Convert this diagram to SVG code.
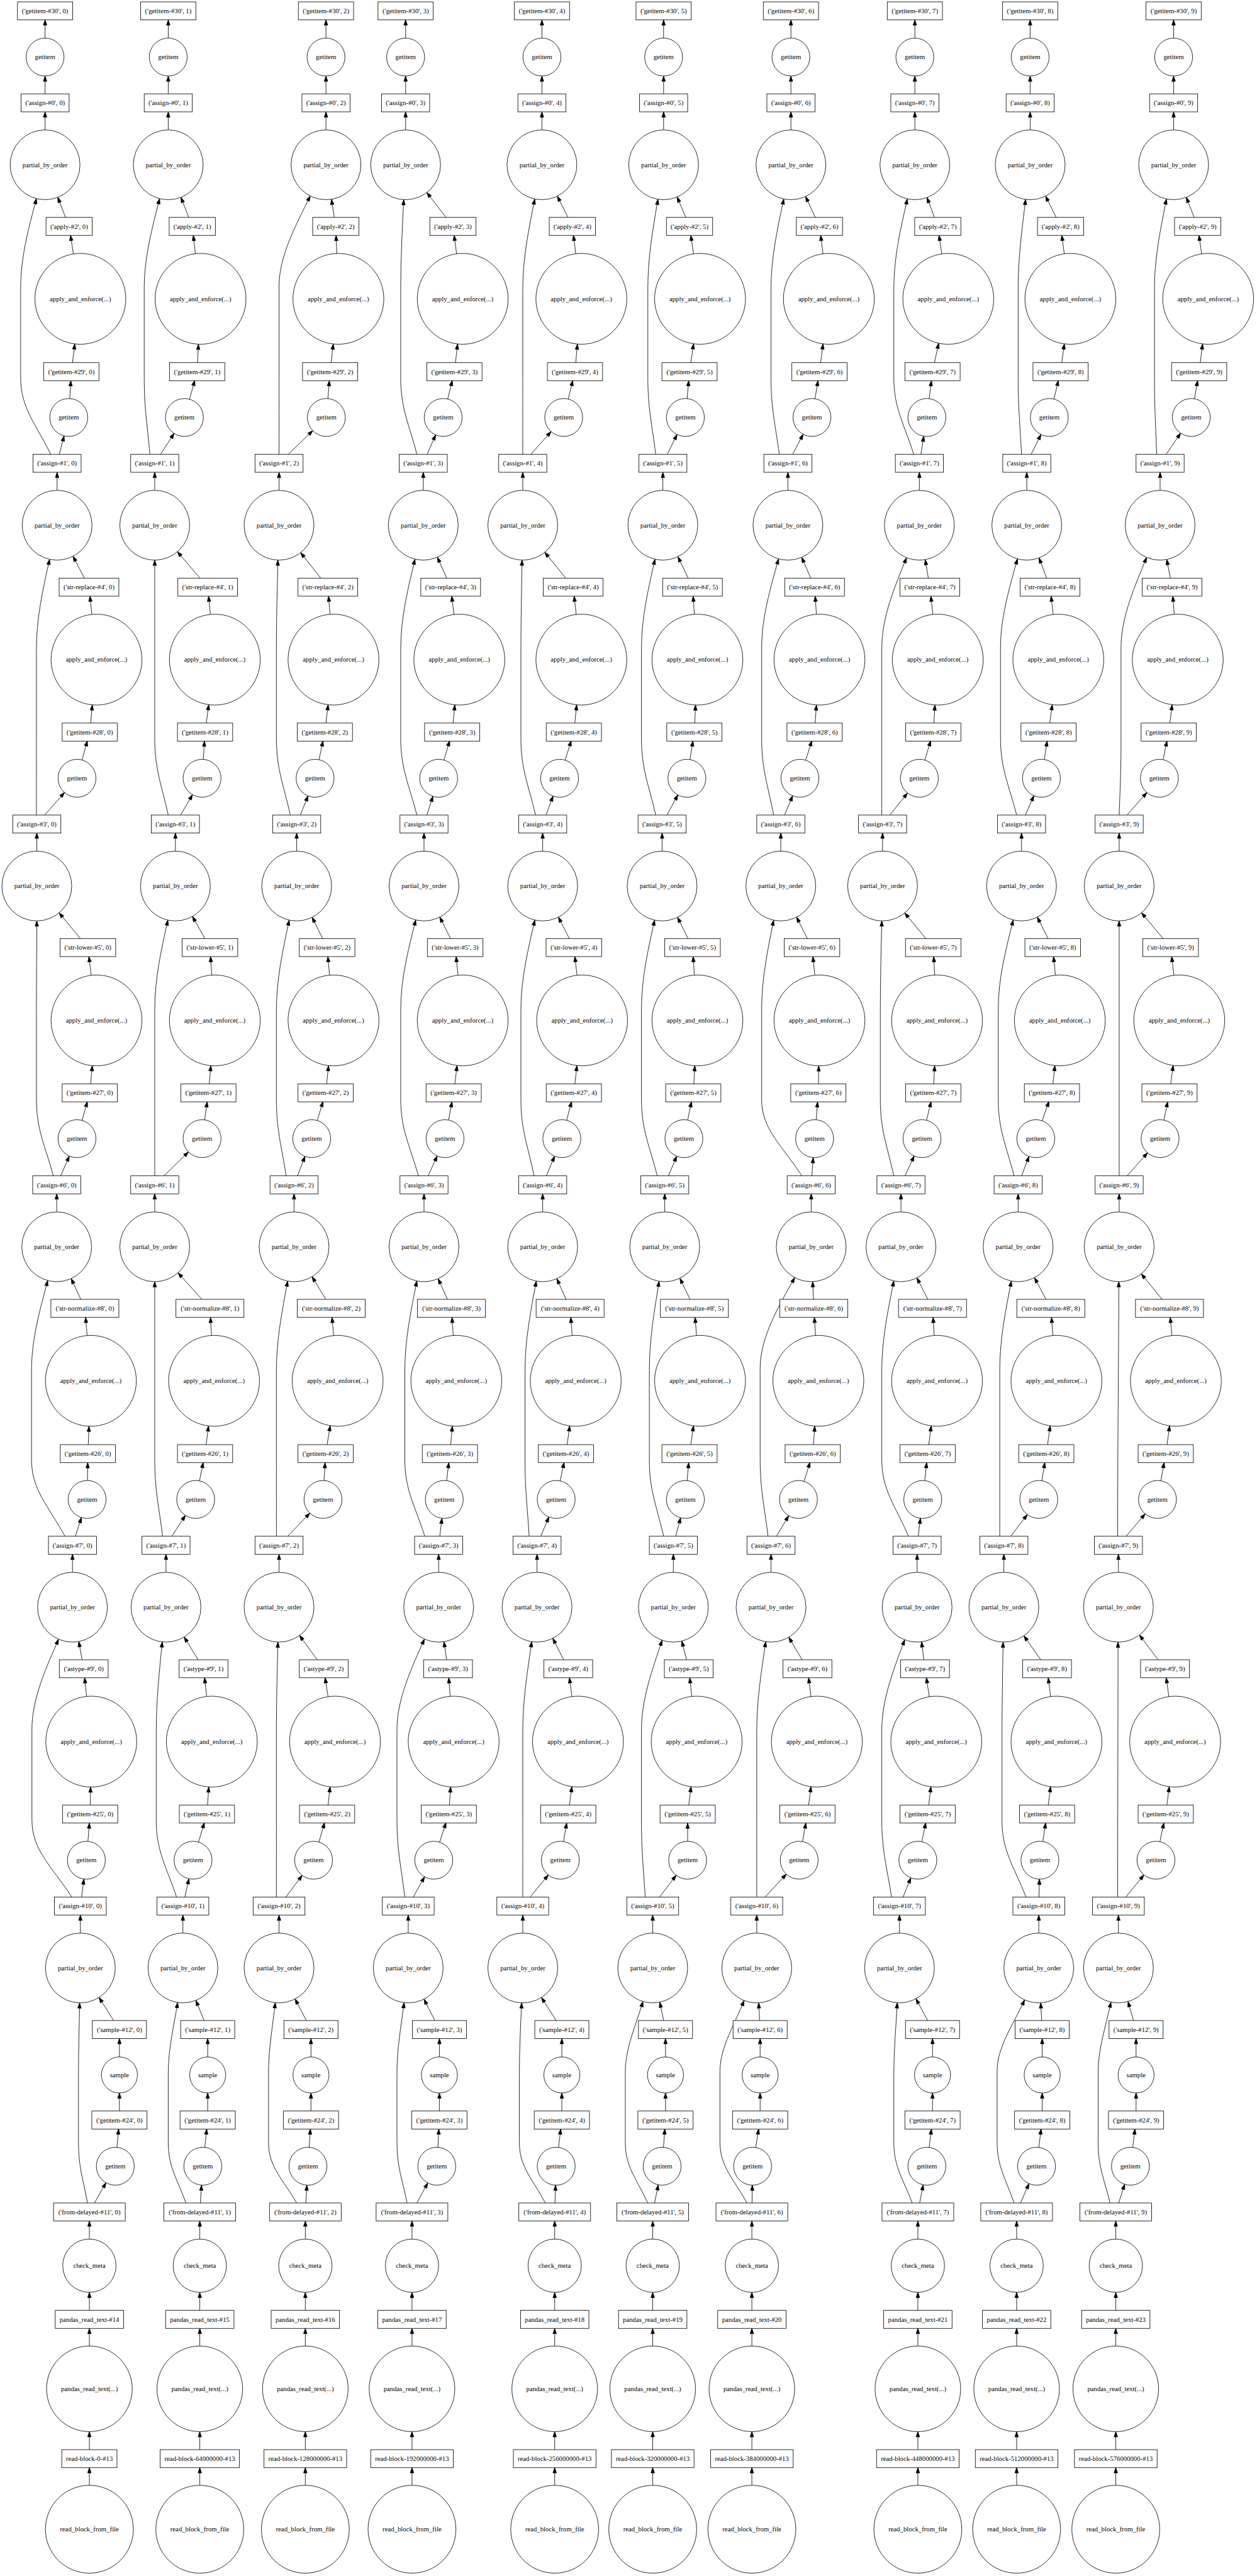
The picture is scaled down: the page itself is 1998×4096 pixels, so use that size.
<svg xmlns="http://www.w3.org/2000/svg" width="1998" height="4096" viewBox="0 0 1998 4096">
<style>
.nd rect,.nd circle{fill:#fff;stroke:#000;stroke-width:1.4}
.nd text{font-family:"Liberation Serif","Times New Roman",serif;font-size:18px;text-anchor:middle;fill:#000}
.ed path{fill:none;stroke:#000;stroke-width:1.4}
.eb path{marker-end:url(#mB)}
.eg path{marker-end:url(#mG)}
.ep path{marker-end:url(#mP)}
.ea path{marker-end:url(#mA)}
.es path{marker-end:url(#mS)}
.ec path{marker-end:url(#mC)}
.er path{marker-end:url(#mR)}
</style>
<defs>
<marker id="mB" viewBox="-20 -8 160 16" markerWidth="160" markerHeight="16" refX="24" refY="0" orient="auto" markerUnits="userSpaceOnUse" overflow="visible"><path d="M0,0L-14,-4.7L-14,4.7Z" fill="#000" stroke="#000" stroke-width="1.4"/></marker>
<marker id="mG" viewBox="-20 -8 160 16" markerWidth="160" markerHeight="16" refX="50.5" refY="0" orient="auto" markerUnits="userSpaceOnUse" overflow="visible"><path d="M0,0L-14,-4.7L-14,4.7Z" fill="#000" stroke="#000" stroke-width="1.4"/></marker>
<marker id="mP" viewBox="-20 -8 160 16" markerWidth="160" markerHeight="16" refX="93" refY="0" orient="auto" markerUnits="userSpaceOnUse" overflow="visible"><path d="M0,0L-14,-4.7L-14,4.7Z" fill="#000" stroke="#000" stroke-width="1.4"/></marker>
<marker id="mA" viewBox="-20 -8 160 16" markerWidth="160" markerHeight="16" refX="121" refY="0" orient="auto" markerUnits="userSpaceOnUse" overflow="visible"><path d="M0,0L-14,-4.7L-14,4.7Z" fill="#000" stroke="#000" stroke-width="1.4"/></marker>
<marker id="mS" viewBox="-20 -8 160 16" markerWidth="160" markerHeight="16" refX="48" refY="0" orient="auto" markerUnits="userSpaceOnUse" overflow="visible"><path d="M0,0L-14,-4.7L-14,4.7Z" fill="#000" stroke="#000" stroke-width="1.4"/></marker>
<marker id="mC" viewBox="-20 -8 160 16" markerWidth="160" markerHeight="16" refX="71" refY="0" orient="auto" markerUnits="userSpaceOnUse" overflow="visible"><path d="M0,0L-14,-4.7L-14,4.7Z" fill="#000" stroke="#000" stroke-width="1.4"/></marker>
<marker id="mR" viewBox="-20 -8 160 16" markerWidth="160" markerHeight="16" refX="114" refY="0" orient="auto" markerUnits="userSpaceOnUse" overflow="visible"><path d="M0,0L-14,-4.7L-14,4.7Z" fill="#000" stroke="#000" stroke-width="1.4"/></marker>
</defs>
<rect x="0" y="0" width="1998" height="4096" fill="#fff"/>
<g transform="scale(0.59695)">
<g id="edges" class="ed">
<g class="eb">
<path d="M238,6737V6549"/><path d="M238,6363V6178"/><path d="M238,6035V5892"/><path d="M307,5770L318,5647"/><path d="M318,5527V5406"/><path d="M214,5242V5077"/><path d="M230,4955L240,4832"/><path d="M243,4639L223,4445"/><path d="M193,4281V4116"/><path d="M232,3994L234,3872"/><path d="M242,3678L226,3485"/><path d="M151,3321V3156"/><path d="M205,3033L239,2911"/><path d="M257,2718L234,2524"/><path d="M98,2360V2195"/><path d="M205,2073L239,1950"/><path d="M257,1757L237,1564"/><path d="M152,1399V1234"/><path d="M183,1112L190,990"/><path d="M214,796L184,603"/><path d="M120,439V274"/><path d="M120,152V29"/>
<path d="M532,6737V6549"/><path d="M532,6363V6178"/><path d="M532,6035V5892"/><path d="M540,5770L553,5647"/><path d="M553,5527V5406"/><path d="M487,5242V5077"/><path d="M514,4955L551,4832"/><path d="M564,4639L542,4445"/><path d="M442,4281V4116"/><path d="M521,3994L546,3872"/><path d="M570,3678L559,3485"/><path d="M412,3321V3156"/><path d="M538,3033L555,2911"/><path d="M572,2718L559,2524"/><path d="M467,2360V2195"/><path d="M538,2073L546,1950"/><path d="M572,1757L553,1564"/><path d="M412,1399V1234"/><path d="M491,1112L525,990"/><path d="M534,796L512,603"/><path d="M448,439V274"/><path d="M448,152V29"/>
<path d="M813,6737V6549"/><path d="M813,6363V6178"/><path d="M813,6035V5892"/><path d="M820,5770L828,5647"/><path d="M828,5527V5406"/><path d="M743,5242V5077"/><path d="M835,4955L871,4832"/><path d="M892,4639L862,4445"/><path d="M743,4281V4116"/><path d="M860,3994L867,3872"/><path d="M899,3678L882,3485"/><path d="M783,3321V3156"/><path d="M830,3033L867,2911"/><path d="M888,2718L871,2524"/><path d="M790,2360V2195"/><path d="M839,2073L865,1950"/><path d="M888,1757L873,1564"/><path d="M743,1399V1234"/><path d="M869,1112L879,990"/><path d="M901,796L894,603"/><path d="M868,439V274"/><path d="M868,152V29"/>
<path d="M1097,6737V6549"/><path d="M1097,6363V6178"/><path d="M1097,6035V5892"/><path d="M1163,5770L1170,5647"/><path d="M1170,5527V5406"/><path d="M1087,5242V5077"/><path d="M1155,4955L1195,4832"/><path d="M1208,4639L1193,4445"/><path d="M1168,4281V4116"/><path d="M1183,3994L1198,3872"/><path d="M1215,3678L1202,3485"/><path d="M1129,3321V3156"/><path d="M1185,3033L1208,2911"/><path d="M1232,2718L1212,2524"/><path d="M1129,2360V2195"/><path d="M1168,2073L1204,1950"/><path d="M1223,1757L1200,1564"/><path d="M1127,1399V1234"/><path d="M1180,1112L1210,990"/><path d="M1232,796L1206,603"/><path d="M1080,439V274"/><path d="M1080,152V29"/>
<path d="M1477,6737V6549"/><path d="M1477,6363V6178"/><path d="M1477,6035V5892"/><path d="M1481,5770L1496,5647"/><path d="M1496,5527V5406"/><path d="M1392,5242V5077"/><path d="M1492,4955L1513,4832"/><path d="M1539,4639L1513,4445"/><path d="M1430,4281V4116"/><path d="M1481,3994L1507,3872"/><path d="M1533,3678L1518,3485"/><path d="M1445,3321V3156"/><path d="M1496,3033L1528,2911"/><path d="M1550,2718L1528,2524"/><path d="M1445,2360V2195"/><path d="M1490,2073L1528,1950"/><path d="M1548,1757L1526,1564"/><path d="M1392,1399V1234"/><path d="M1501,1112L1531,990"/><path d="M1548,796L1524,603"/><path d="M1443,439V274"/><path d="M1443,152V29"/>
<path d="M1738,6737V6549"/><path d="M1738,6363V6178"/><path d="M1738,6035V5892"/><path d="M1763,5770L1772,5647"/><path d="M1772,5527V5406"/><path d="M1738,5242V5077"/><path d="M1831,4955V4832"/><path d="M1855,4639L1834,4445"/><path d="M1793,4281V4116"/><path d="M1825,3994L1836,3872"/><path d="M1864,3678L1849,3485"/><path d="M1770,3321V3156"/><path d="M1821,3033L1846,2911"/><path d="M1857,2718L1844,2524"/><path d="M1763,2360V2195"/><path d="M1829,2073L1849,1950"/><path d="M1857,1757L1844,1564"/><path d="M1765,1399V1234"/><path d="M1825,1112L1836,990"/><path d="M1864,796L1836,603"/><path d="M1767,439V274"/><path d="M1767,152V29"/>
<path d="M2002,6737V6549"/><path d="M2002,6363V6178"/><path d="M2002,6035V5892"/><path d="M2004,5770L2024,5647"/><path d="M2024,5527V5406"/><path d="M2015,5242V5077"/><path d="M2128,4955L2150,4832"/><path d="M2175,4639L2150,4445"/><path d="M2053,4281V4116"/><path d="M2126,3994L2164,3872"/><path d="M2179,3678L2167,3485"/><path d="M2160,3321V3156"/><path d="M2169,3033L2179,2911"/><path d="M2182,2718L2162,2524"/><path d="M2079,2360V2195"/><path d="M2130,2073L2169,1950"/><path d="M2182,1757L2169,1564"/><path d="M2098,1399V1234"/><path d="M2162,1112L2182,990"/><path d="M2207,796L2182,603"/><path d="M2106,439V274"/><path d="M2106,152V29"/>
<path d="M2444,6737V6549"/><path d="M2444,6363V6178"/><path d="M2444,6035V5892"/><path d="M2468,5770L2483,5647"/><path d="M2483,5527V5406"/><path d="M2395,5242V5077"/><path d="M2444,4955L2470,4832"/><path d="M2493,4639L2463,4445"/><path d="M2442,4281V4116"/><path d="M2457,3994L2470,3872"/><path d="M2495,3678L2483,3485"/><path d="M2399,3321V3156"/><path d="M2455,3033L2485,2911"/><path d="M2495,2718L2485,2524"/><path d="M2350,2360V2195"/><path d="M2448,2073L2485,1950"/><path d="M2497,1757L2476,1564"/><path d="M2448,1399V1234"/><path d="M2468,1112L2483,990"/><path d="M2525,796L2497,603"/><path d="M2436,439V274"/><path d="M2436,152V29"/>
<path d="M2707,6737V6549"/><path d="M2707,6363V6178"/><path d="M2707,6035V5892"/><path d="M2760,5770L2775,5647"/><path d="M2775,5527V5406"/><path d="M2766,5242V5077"/><path d="M2769,4955L2788,4832"/><path d="M2813,4639L2788,4445"/><path d="M2673,4281V4116"/><path d="M2766,3994L2786,3872"/><path d="M2813,3678L2798,3485"/><path d="M2711,3321V3156"/><path d="M2758,3033L2801,2911"/><path d="M2822,2718L2803,2524"/><path d="M2720,2360V2195"/><path d="M2773,2073L2792,1950"/><path d="M2818,1757L2796,1564"/><path d="M2734,1399V1234"/><path d="M2794,1112L2824,990"/><path d="M2850,796L2824,603"/><path d="M2743,439V274"/><path d="M2743,152V29"/>
<path d="M2971,6737V6549"/><path d="M2971,6363V6178"/><path d="M2971,6035V5892"/><path d="M3010,5770L3025,5647"/><path d="M3025,5527V5406"/><path d="M2978,5242V5077"/><path d="M3078,4955L3104,4832"/><path d="M3129,4639L3102,4445"/><path d="M2978,4281V4116"/><path d="M3082,3994L3104,3872"/><path d="M3131,3678L3114,3485"/><path d="M2980,3321V3156"/><path d="M3089,3033L3114,2911"/><path d="M3140,2718L3117,2524"/><path d="M2980,2360V2195"/><path d="M3087,2073L3112,1950"/><path d="M3136,1757L3121,1564"/><path d="M3089,1399V1234"/><path d="M3172,1112L3193,990"/><path d="M3217,796L3189,603"/><path d="M3125,439V274"/><path d="M3125,152V29"/>
</g>
<g class="er">
<path d="M238,6549V6363"/><path d="M532,6549V6363"/><path d="M813,6549V6363"/><path d="M1097,6549V6363"/><path d="M1477,6549V6363"/><path d="M1738,6549V6363"/><path d="M2002,6549V6363"/><path d="M2444,6549V6363"/><path d="M2707,6549V6363"/><path d="M2971,6549V6363"/>
</g>
<g class="ec">
<path d="M238,6178V6035"/><path d="M532,6178V6035"/><path d="M813,6178V6035"/><path d="M1097,6178V6035"/><path d="M1477,6178V6035"/><path d="M1738,6178V6035"/><path d="M2002,6178V6035"/><path d="M2444,6178V6035"/><path d="M2707,6178V6035"/><path d="M2971,6178V6035"/>
</g>
<g class="es">
<path d="M318,5647V5527"/><path d="M553,5647V5527"/><path d="M828,5647V5527"/><path d="M1170,5647V5527"/><path d="M1496,5647V5527"/><path d="M1772,5647V5527"/><path d="M2024,5647V5527"/><path d="M2483,5647V5527"/><path d="M2775,5647V5527"/><path d="M3025,5647V5527"/>
</g>
<g class="eg">
<path d="M238,5892L307,5770"/><path d="M214,5077L230,4955"/><path d="M193,4116L232,3994"/><path d="M151,3156L205,3033"/><path d="M98,2195L205,2073"/><path d="M152,1234L183,1112"/><path d="M120,274V152"/>
<path d="M532,5892L540,5770"/><path d="M487,5077L514,4955"/><path d="M442,4116L521,3994"/><path d="M412,3156L538,3033"/><path d="M467,2195L538,2073"/><path d="M412,1234L491,1112"/><path d="M448,274V152"/>
<path d="M813,5892L820,5770"/><path d="M743,5077L835,4955"/><path d="M743,4116L860,3994"/><path d="M783,3156L830,3033"/><path d="M790,2195L839,2073"/><path d="M743,1234L869,1112"/><path d="M868,274V152"/>
<path d="M1097,5892L1163,5770"/><path d="M1087,5077L1155,4955"/><path d="M1168,4116L1183,3994"/><path d="M1129,3156L1185,3033"/><path d="M1129,2195L1168,2073"/><path d="M1127,1234L1180,1112"/><path d="M1080,274V152"/>
<path d="M1477,5892L1481,5770"/><path d="M1392,5077L1492,4955"/><path d="M1430,4116L1481,3994"/><path d="M1445,3156L1496,3033"/><path d="M1445,2195L1490,2073"/><path d="M1392,1234L1501,1112"/><path d="M1443,274V152"/>
<path d="M1738,5892L1763,5770"/><path d="M1738,5077L1831,4955"/><path d="M1793,4116L1825,3994"/><path d="M1770,3156L1821,3033"/><path d="M1763,2195L1829,2073"/><path d="M1765,1234L1825,1112"/><path d="M1767,274V152"/>
<path d="M2002,5892L2004,5770"/><path d="M2015,5077L2128,4955"/><path d="M2053,4116L2126,3994"/><path d="M2160,3156L2169,3033"/><path d="M2079,2195L2130,2073"/><path d="M2098,1234L2162,1112"/><path d="M2106,274V152"/>
<path d="M2444,5892L2468,5770"/><path d="M2395,5077L2444,4955"/><path d="M2442,4116L2457,3994"/><path d="M2399,3156L2455,3033"/><path d="M2350,2195L2448,2073"/><path d="M2448,1234L2468,1112"/><path d="M2436,274V152"/>
<path d="M2707,5892L2760,5770"/><path d="M2766,5077L2769,4955"/><path d="M2673,4116L2766,3994"/><path d="M2711,3156L2758,3033"/><path d="M2720,2195L2773,2073"/><path d="M2734,1234L2794,1112"/><path d="M2743,274V152"/>
<path d="M2971,5892L3010,5770"/><path d="M2978,5077L3078,4955"/><path d="M2978,4116L3082,3994"/><path d="M2980,3156L3089,3033"/><path d="M2980,2195L3087,2073"/><path d="M3089,1234L3172,1112"/><path d="M3125,274V152"/>
</g>
<g class="ea">
<path d="M240,4832L243,4639"/><path d="M234,3872L242,3678"/><path d="M239,2911L257,2718"/><path d="M239,1950L257,1757"/><path d="M190,990L214,796"/>
<path d="M551,4832L564,4639"/><path d="M546,3872L570,3678"/><path d="M555,2911L572,2718"/><path d="M546,1950L572,1757"/><path d="M525,990L534,796"/>
<path d="M871,4832L892,4639"/><path d="M867,3872L899,3678"/><path d="M867,2911L888,2718"/><path d="M865,1950L888,1757"/><path d="M879,990L901,796"/>
<path d="M1195,4832L1208,4639"/><path d="M1198,3872L1215,3678"/><path d="M1208,2911L1232,2718"/><path d="M1204,1950L1223,1757"/><path d="M1210,990L1232,796"/>
<path d="M1513,4832L1539,4639"/><path d="M1507,3872L1533,3678"/><path d="M1528,2911L1550,2718"/><path d="M1528,1950L1548,1757"/><path d="M1531,990L1548,796"/>
<path d="M1831,4832L1855,4639"/><path d="M1836,3872L1864,3678"/><path d="M1846,2911L1857,2718"/><path d="M1849,1950L1857,1757"/><path d="M1836,990L1864,796"/>
<path d="M2150,4832L2175,4639"/><path d="M2164,3872L2179,3678"/><path d="M2179,2911L2182,2718"/><path d="M2169,1950L2182,1757"/><path d="M2182,990L2207,796"/>
<path d="M2470,4832L2493,4639"/><path d="M2470,3872L2495,3678"/><path d="M2485,2911L2495,2718"/><path d="M2485,1950L2497,1757"/><path d="M2483,990L2525,796"/>
<path d="M2788,4832L2813,4639"/><path d="M2786,3872L2813,3678"/><path d="M2801,2911L2822,2718"/><path d="M2792,1950L2818,1757"/><path d="M2824,990L2850,796"/>
<path d="M3104,4832L3129,4639"/><path d="M3104,3872L3131,3678"/><path d="M3114,2911L3140,2718"/><path d="M3112,1950L3136,1757"/><path d="M3193,990L3217,796"/>
</g>
<g class="ep">
<path d="M318,5406L214,5242"/><path d="M223,4445L193,4281"/><path d="M226,3485L151,3321"/><path d="M234,2524L98,2360"/><path d="M237,1564L152,1399"/><path d="M184,603L120,439"/>
<path d="M553,5406L487,5242"/><path d="M542,4445L442,4281"/><path d="M559,3485L412,3321"/><path d="M559,2524L467,2360"/><path d="M553,1564L412,1399"/><path d="M512,603L448,439"/>
<path d="M828,5406L743,5242"/><path d="M862,4445L743,4281"/><path d="M882,3485L783,3321"/><path d="M871,2524L790,2360"/><path d="M873,1564L743,1399"/><path d="M894,603L868,439"/>
<path d="M1170,5406L1087,5242"/><path d="M1193,4445L1168,4281"/><path d="M1202,3485L1129,3321"/><path d="M1212,2524L1129,2360"/><path d="M1200,1564L1127,1399"/><path d="M1206,603L1080,439"/>
<path d="M1496,5406L1392,5242"/><path d="M1513,4445L1430,4281"/><path d="M1518,3485L1445,3321"/><path d="M1528,2524L1445,2360"/><path d="M1526,1564L1392,1399"/><path d="M1524,603L1443,439"/>
<path d="M1772,5406L1738,5242"/><path d="M1834,4445L1793,4281"/><path d="M1849,3485L1770,3321"/><path d="M1844,2524L1763,2360"/><path d="M1844,1564L1765,1399"/><path d="M1836,603L1767,439"/>
<path d="M2024,5406L2015,5242"/><path d="M2150,4445L2053,4281"/><path d="M2167,3485L2160,3321"/><path d="M2162,2524L2079,2360"/><path d="M2169,1564L2098,1399"/><path d="M2182,603L2106,439"/>
<path d="M2483,5406L2395,5242"/><path d="M2463,4445L2442,4281"/><path d="M2483,3485L2399,3321"/><path d="M2485,2524L2350,2360"/><path d="M2476,1564L2448,1399"/><path d="M2497,603L2436,439"/>
<path d="M2775,5406L2766,5242"/><path d="M2788,4445L2673,4281"/><path d="M2798,3485L2711,3321"/><path d="M2803,2524L2720,2360"/><path d="M2796,1564L2734,1399"/><path d="M2824,603L2743,439"/>
<path d="M3025,5406L2978,5242"/><path d="M3102,4445L2978,4281"/><path d="M3114,3485L2980,3321"/><path d="M3117,2524L2980,2360"/><path d="M3121,1564L3089,1399"/><path d="M3189,603L3125,439"/>
<path d="M135,1210C95,1128 55,1087 55,1006L55,767C55,686 76,608 97,529L120,439"/>
<path d="M97,2171C97,2089 97,2048 97,1967L97,1728C97,1647 114,1570 132,1490L152,1399"/>
<path d="M142,3132C120,3051 97,3010 97,2928L97,2691C97,2609 98,2535 98,2453L98,2360"/>
<path d="M173,4092C128,4010 84,3969 84,3888L84,3649C84,3568 106,3490 127,3411L151,3321"/>
<path d="M191,5053C138,4971 85,4929 85,4847L85,4607C85,4524 123,4442 156,4366L193,4281"/>
<path d="M233,5868C221,5804 209,5772 209,5708L209,5522C209,5458 211,5399 212,5335L214,5242"/>
<path d="M399,1210C392,1128 384,1087 384,1006L384,767C384,686 405,608 425,529L448,439"/>
<path d="M448,2171C430,2090 412,2049 412,1967L412,1730C412,1648 412,1574 412,1492L412,1399"/>
<path d="M412,3132C412,3050 412,3009 412,2928L412,2689C412,2608 429,2531 447,2451L467,2360"/>
<path d="M433,4092C423,4011 412,3970 412,3889L412,3651C412,3570 412,3495 412,3414L412,3321"/>
<path d="M470,5053C443,4972 416,4931 416,4849L416,4611C416,4530 424,4455 432,4374L442,4281"/>
<path d="M495,5868C472,5804 448,5772 448,5708L448,5521C448,5457 463,5397 473,5334L487,5242"/>
<path d="M743,1210C743,1128 743,1086 743,1004L743,763C743,680 790,596 826,522L868,439"/>
<path d="M773,2171C755,2090 736,2049 736,1967L736,1730C736,1648 738,1574 740,1492L743,1399"/>
<path d="M762,3132C749,3050 736,3009 736,2928L736,2689C736,2608 753,2531 770,2451L790,2360"/>
<path d="M736,4092C736,4010 736,3970 736,3888L736,3650C736,3569 751,3493 766,3412L783,3321"/>
<path d="M736,5053C736,4971 736,4930 736,4849L736,4612C736,4530 738,4455 740,4374L743,4281"/>
<path d="M790,5868C753,5804 715,5772 715,5708L715,5521C715,5457 726,5398 733,5334L743,5242"/>
<path d="M1110,1210C1089,1129 1067,1088 1067,1007L1067,769C1067,688 1071,613 1075,532L1080,439"/>
<path d="M1110,2171C1089,2089 1067,2048 1067,1967L1067,1728C1067,1646 1086,1569 1105,1489L1127,1399"/>
<path d="M1114,3132C1091,3050 1067,3009 1067,2928L1067,2689C1067,2607 1087,2530 1107,2450L1129,2360"/>
<path d="M1131,4092C1105,4010 1078,3970 1078,3888L1078,3650C1078,3569 1094,3492 1110,3412L1129,3321"/>
<path d="M1078,5053C1068,4971 1057,4929 1057,4847L1057,4607C1057,4524 1097,4441 1130,4366L1168,4281"/>
<path d="M1084,5868C1071,5804 1057,5772 1057,5708L1057,5521C1057,5457 1068,5398 1076,5334L1087,5242"/>
<path d="M1392,1210C1392,1128 1392,1088 1392,1006L1392,768C1392,687 1408,610 1424,530L1443,439"/>
<path d="M1426,2171C1407,2090 1387,2049 1387,1967L1387,1730C1387,1648 1389,1574 1390,1492L1392,1399"/>
<path d="M1422,3132C1405,3050 1387,3009 1387,2928L1387,2689C1387,2607 1406,2530 1424,2451L1445,2360"/>
<path d="M1409,4092C1404,4010 1398,3970 1398,3888L1398,3650C1398,3569 1413,3493 1428,3412L1445,3321"/>
<path d="M1392,5053C1392,4971 1392,4931 1392,4849L1392,4611C1392,4529 1404,4454 1416,4373L1430,4281"/>
<path d="M1452,5868C1418,5804 1383,5772 1383,5708L1383,5522C1383,5458 1386,5399 1389,5335L1392,5242"/>
<path d="M1746,1210C1736,1129 1725,1088 1725,1006L1725,769C1725,687 1738,611 1752,531L1767,439"/>
<path d="M1746,2171C1727,2089 1708,2048 1708,1967L1708,1728C1708,1646 1726,1569 1744,1490L1765,1399"/>
<path d="M1750,3132C1729,3050 1708,3009 1708,2928L1708,2689C1708,2608 1725,2531 1743,2451L1763,2360"/>
<path d="M1767,4092C1748,4010 1729,3970 1729,3888L1729,3651C1729,3569 1742,3493 1755,3413L1770,3321"/>
<path d="M1718,5053C1713,4971 1708,4930 1708,4848L1708,4608C1708,4526 1737,4447 1763,4369L1793,4281"/>
<path d="M1725,5868C1695,5804 1665,5771 1665,5707L1665,5519C1665,5455 1694,5393 1712,5331L1738,5242"/>
<path d="M2075,1210C2064,1128 2053,1088 2053,1006L2053,768C2053,686 2070,610 2087,530L2106,439"/>
<path d="M2060,2171C2044,2089 2028,2048 2028,1966L2028,1727C2028,1646 2051,1568 2073,1489L2098,1399"/>
<path d="M2135,3132C2082,3050 2028,3009 2028,2928L2028,2689C2028,2608 2044,2531 2060,2451L2079,2360"/>
<path d="M2045,4092C2035,4009 2024,3968 2024,3885L2024,3644C2024,3561 2076,3475 2116,3403L2160,3321"/>
<path d="M2015,5053C2015,4971 2015,4931 2015,4849L2015,4611C2015,4529 2027,4454 2039,4373L2053,4281"/>
<path d="M1989,5868C1953,5803 1917,5771 1917,5706L1917,5517C1917,5453 1958,5389 1981,5329L2015,5242"/>
<path d="M2433,1210C2407,1128 2380,1088 2380,1006L2380,768C2380,686 2398,609 2416,530L2436,439"/>
<path d="M2348,2171C2348,2089 2348,2048 2348,1965L2348,1725C2348,1643 2383,1562 2414,1485L2448,1399"/>
<path d="M2380,3132C2362,3051 2344,3010 2344,2928L2344,2691C2344,2609 2346,2535 2348,2453L2350,2360"/>
<path d="M2419,4092C2384,4010 2348,3970 2348,3888L2348,3650C2348,3569 2364,3492 2380,3412L2399,3321"/>
<path d="M2374,5053C2361,4971 2348,4930 2348,4848L2348,4608C2348,4526 2380,4445 2409,4368L2442,4281"/>
<path d="M2429,5868C2405,5804 2380,5772 2380,5708L2380,5521C2380,5457 2386,5399 2389,5335L2395,5242"/>
<path d="M2720,1210C2716,1129 2711,1088 2711,1006L2711,769C2711,687 2721,612 2731,531L2743,439"/>
<path d="M2707,2171C2686,2089 2664,2048 2664,1966L2664,1727C2664,1646 2687,1568 2709,1489L2734,1399"/>
<path d="M2700,3132C2679,3050 2658,3009 2658,2928L2658,2689C2658,2607 2678,2530 2698,2450L2720,2360"/>
<path d="M2662,4092C2662,4010 2662,3970 2662,3888L2662,3650C2662,3569 2677,3492 2693,3412L2711,3321"/>
<path d="M2732,5053C2700,4972 2668,4931 2668,4849L2668,4612C2668,4530 2670,4456 2671,4374L2673,4281"/>
<path d="M2700,5868C2678,5803 2655,5771 2655,5706L2655,5516C2655,5451 2702,5386 2728,5327L2766,5242"/>
<path d="M3080,1210C3077,1128 3074,1088 3074,1006L3074,768C3074,687 3090,610 3106,530L3125,439"/>
<path d="M2980,2171C2983,2089 2985,2048 2985,1965L2985,1725C2985,1643 3022,1561 3053,1485L3089,1399"/>
<path d="M2980,3132L2980,2360"/>
<path d="M2976,4092C2976,3800 2979,3600 2979,3414L2980,3321"/>
<path d="M2976,5053C2976,4800 2977,4600 2977,4374L2978,4281"/>
<path d="M2956,5868C2940,5804 2924,5772 2924,5708L2924,5520C2924,5456 2945,5396 2958,5333L2978,5242"/>
</g>
</g>
<g id="nodes" class="nd">
<g id="c0A" transform="translate(120,29)"><rect x="-73.5" y="-24" width="147" height="48"/><text y="6">('getitem-#30', 0)</text></g>
<g id="c0B" transform="translate(120,152)"><circle r="50.5"/><text y="6">getitem</text></g>
<g id="c0C" transform="translate(120,274)"><rect x="-64" y="-24" width="128" height="48"/><text y="6">('assign-#0', 0)</text></g>
<g id="c0D" transform="translate(120,439)"><circle r="93"/><text y="6">partial_by_order</text></g>
<g id="c0E" transform="translate(184,603)"><rect x="-61.5" y="-24" width="123" height="48"/><text y="6">('apply-#2', 0)</text></g>
<g id="c0F" transform="translate(214,796)"><circle r="121"/><text y="6">apply_and_enforce(...)</text></g>
<g id="c0G" transform="translate(190,990)"><rect x="-73.5" y="-24" width="147" height="48"/><text y="6">('getitem-#29', 0)</text></g>
<g id="c0H" transform="translate(183,1112)"><circle r="50.5"/><text y="6">getitem</text></g>
<g id="c0I" transform="translate(152,1234)"><rect x="-64" y="-24" width="128" height="48"/><text y="6">('assign-#1', 0)</text></g>
<g id="c0J" transform="translate(152,1399)"><circle r="93"/><text y="6">partial_by_order</text></g>
<g id="c0K" transform="translate(237,1564)"><rect x="-79.5" y="-24" width="159" height="48"/><text y="6">('str-replace-#4', 0)</text></g>
<g id="c0L" transform="translate(257,1757)"><circle r="121"/><text y="6">apply_and_enforce(...)</text></g>
<g id="c0M" transform="translate(239,1950)"><rect x="-73.5" y="-24" width="147" height="48"/><text y="6">('getitem-#28', 0)</text></g>
<g id="c0N" transform="translate(205,2073)"><circle r="50.5"/><text y="6">getitem</text></g>
<g id="c0O" transform="translate(98,2195)"><rect x="-64" y="-24" width="128" height="48"/><text y="6">('assign-#3', 0)</text></g>
<g id="c0P" transform="translate(98,2360)"><circle r="93"/><text y="6">partial_by_order</text></g>
<g id="c0Q" transform="translate(234,2524)"><rect x="-74" y="-24" width="148" height="48"/><text y="6">('str-lower-#5', 0)</text></g>
<g id="c0R" transform="translate(257,2718)"><circle r="121"/><text y="6">apply_and_enforce(...)</text></g>
<g id="c0S" transform="translate(239,2911)"><rect x="-73.5" y="-24" width="147" height="48"/><text y="6">('getitem-#27', 0)</text></g>
<g id="c0T" transform="translate(205,3033)"><circle r="50.5"/><text y="6">getitem</text></g>
<g id="c0U" transform="translate(151,3156)"><rect x="-64" y="-24" width="128" height="48"/><text y="6">('assign-#6', 0)</text></g>
<g id="c0V" transform="translate(151,3321)"><circle r="93"/><text y="6">partial_by_order</text></g>
<g id="c0W" transform="translate(226,3485)"><rect x="-90.5" y="-24" width="181" height="48"/><text y="6">('str-normalize-#8', 0)</text></g>
<g id="c0X" transform="translate(242,3678)"><circle r="121"/><text y="6">apply_and_enforce(...)</text></g>
<g id="c0Y" transform="translate(234,3872)"><rect x="-73.5" y="-24" width="147" height="48"/><text y="6">('getitem-#26', 0)</text></g>
<g id="c0Z" transform="translate(232,3994)"><circle r="50.5"/><text y="6">getitem</text></g>
<g id="c0AA" transform="translate(193,4116)"><rect x="-64" y="-24" width="128" height="48"/><text y="6">('assign-#7', 0)</text></g>
<g id="c0AB" transform="translate(193,4281)"><circle r="93"/><text y="6">partial_by_order</text></g>
<g id="c0AC" transform="translate(223,4445)"><rect x="-65" y="-24" width="130" height="48"/><text y="6">('astype-#9', 0)</text></g>
<g id="c0AD" transform="translate(243,4639)"><circle r="121"/><text y="6">apply_and_enforce(...)</text></g>
<g id="c0AE" transform="translate(240,4832)"><rect x="-73.5" y="-24" width="147" height="48"/><text y="6">('getitem-#25', 0)</text></g>
<g id="c0AF" transform="translate(230,4955)"><circle r="50.5"/><text y="6">getitem</text></g>
<g id="c0AG" transform="translate(214,5077)"><rect x="-69" y="-24" width="138" height="48"/><text y="6">('assign-#10', 0)</text></g>
<g id="c0AH" transform="translate(214,5242)"><circle r="93"/><text y="6">partial_by_order</text></g>
<g id="c0AI" transform="translate(318,5406)"><rect x="-72" y="-24" width="144" height="48"/><text y="6">('sample-#12', 0)</text></g>
<g id="c0AJ" transform="translate(318,5527)"><circle r="48"/><text y="6">sample</text></g>
<g id="c0AK" transform="translate(318,5647)"><rect x="-73.5" y="-24" width="147" height="48"/><text y="6">('getitem-#24', 0)</text></g>
<g id="c0AL" transform="translate(307,5770)"><circle r="50.5"/><text y="6">getitem</text></g>
<g id="c0AM" transform="translate(238,5892)"><rect x="-95.5" y="-24" width="191" height="48"/><text y="6">('from-delayed-#11', 0)</text></g>
<g id="c0AN" transform="translate(238,6035)"><circle r="71"/><text y="6">check_meta</text></g>
<g id="c0AO" transform="translate(238,6178)"><rect x="-91" y="-24" width="182" height="48"/><text y="6">pandas_read_text-#14</text></g>
<g id="c0AP" transform="translate(238,6363)"><circle r="114"/><text y="6">pandas_read_text(...)</text></g>
<g id="c0AQ" transform="translate(238,6549)"><rect x="-73.5" y="-24" width="147" height="48"/><text y="6">read-block-0-#13</text></g>
<g id="c0AR" transform="translate(238,6737)"><circle r="117"/><text y="6">read_block_from_file</text></g>

<g id="c1A" transform="translate(448,29)"><rect x="-73.5" y="-24" width="147" height="48"/><text y="6">('getitem-#30', 1)</text></g>
<g id="c1B" transform="translate(448,152)"><circle r="50.5"/><text y="6">getitem</text></g>
<g id="c1C" transform="translate(448,274)"><rect x="-64" y="-24" width="128" height="48"/><text y="6">('assign-#0', 1)</text></g>
<g id="c1D" transform="translate(448,439)"><circle r="93"/><text y="6">partial_by_order</text></g>
<g id="c1E" transform="translate(512,603)"><rect x="-61.5" y="-24" width="123" height="48"/><text y="6">('apply-#2', 1)</text></g>
<g id="c1F" transform="translate(534,796)"><circle r="121"/><text y="6">apply_and_enforce(...)</text></g>
<g id="c1G" transform="translate(525,990)"><rect x="-73.5" y="-24" width="147" height="48"/><text y="6">('getitem-#29', 1)</text></g>
<g id="c1H" transform="translate(491,1112)"><circle r="50.5"/><text y="6">getitem</text></g>
<g id="c1I" transform="translate(412,1234)"><rect x="-64" y="-24" width="128" height="48"/><text y="6">('assign-#1', 1)</text></g>
<g id="c1J" transform="translate(412,1399)"><circle r="93"/><text y="6">partial_by_order</text></g>
<g id="c1K" transform="translate(553,1564)"><rect x="-79.5" y="-24" width="159" height="48"/><text y="6">('str-replace-#4', 1)</text></g>
<g id="c1L" transform="translate(572,1757)"><circle r="121"/><text y="6">apply_and_enforce(...)</text></g>
<g id="c1M" transform="translate(546,1950)"><rect x="-73.5" y="-24" width="147" height="48"/><text y="6">('getitem-#28', 1)</text></g>
<g id="c1N" transform="translate(538,2073)"><circle r="50.5"/><text y="6">getitem</text></g>
<g id="c1O" transform="translate(467,2195)"><rect x="-64" y="-24" width="128" height="48"/><text y="6">('assign-#3', 1)</text></g>
<g id="c1P" transform="translate(467,2360)"><circle r="93"/><text y="6">partial_by_order</text></g>
<g id="c1Q" transform="translate(559,2524)"><rect x="-74" y="-24" width="148" height="48"/><text y="6">('str-lower-#5', 1)</text></g>
<g id="c1R" transform="translate(572,2718)"><circle r="121"/><text y="6">apply_and_enforce(...)</text></g>
<g id="c1S" transform="translate(555,2911)"><rect x="-73.5" y="-24" width="147" height="48"/><text y="6">('getitem-#27', 1)</text></g>
<g id="c1T" transform="translate(538,3033)"><circle r="50.5"/><text y="6">getitem</text></g>
<g id="c1U" transform="translate(412,3156)"><rect x="-64" y="-24" width="128" height="48"/><text y="6">('assign-#6', 1)</text></g>
<g id="c1V" transform="translate(412,3321)"><circle r="93"/><text y="6">partial_by_order</text></g>
<g id="c1W" transform="translate(559,3485)"><rect x="-90.5" y="-24" width="181" height="48"/><text y="6">('str-normalize-#8', 1)</text></g>
<g id="c1X" transform="translate(570,3678)"><circle r="121"/><text y="6">apply_and_enforce(...)</text></g>
<g id="c1Y" transform="translate(546,3872)"><rect x="-73.5" y="-24" width="147" height="48"/><text y="6">('getitem-#26', 1)</text></g>
<g id="c1Z" transform="translate(521,3994)"><circle r="50.5"/><text y="6">getitem</text></g>
<g id="c1AA" transform="translate(442,4116)"><rect x="-64" y="-24" width="128" height="48"/><text y="6">('assign-#7', 1)</text></g>
<g id="c1AB" transform="translate(442,4281)"><circle r="93"/><text y="6">partial_by_order</text></g>
<g id="c1AC" transform="translate(542,4445)"><rect x="-65" y="-24" width="130" height="48"/><text y="6">('astype-#9', 1)</text></g>
<g id="c1AD" transform="translate(564,4639)"><circle r="121"/><text y="6">apply_and_enforce(...)</text></g>
<g id="c1AE" transform="translate(551,4832)"><rect x="-73.5" y="-24" width="147" height="48"/><text y="6">('getitem-#25', 1)</text></g>
<g id="c1AF" transform="translate(514,4955)"><circle r="50.5"/><text y="6">getitem</text></g>
<g id="c1AG" transform="translate(487,5077)"><rect x="-69" y="-24" width="138" height="48"/><text y="6">('assign-#10', 1)</text></g>
<g id="c1AH" transform="translate(487,5242)"><circle r="93"/><text y="6">partial_by_order</text></g>
<g id="c1AI" transform="translate(553,5406)"><rect x="-72" y="-24" width="144" height="48"/><text y="6">('sample-#12', 1)</text></g>
<g id="c1AJ" transform="translate(553,5527)"><circle r="48"/><text y="6">sample</text></g>
<g id="c1AK" transform="translate(553,5647)"><rect x="-73.5" y="-24" width="147" height="48"/><text y="6">('getitem-#24', 1)</text></g>
<g id="c1AL" transform="translate(540,5770)"><circle r="50.5"/><text y="6">getitem</text></g>
<g id="c1AM" transform="translate(532,5892)"><rect x="-95.5" y="-24" width="191" height="48"/><text y="6">('from-delayed-#11', 1)</text></g>
<g id="c1AN" transform="translate(532,6035)"><circle r="71"/><text y="6">check_meta</text></g>
<g id="c1AO" transform="translate(532,6178)"><rect x="-91" y="-24" width="182" height="48"/><text y="6">pandas_read_text-#15</text></g>
<g id="c1AP" transform="translate(532,6363)"><circle r="114"/><text y="6">pandas_read_text(...)</text></g>
<g id="c1AQ" transform="translate(532,6549)"><rect x="-105.5" y="-24" width="211" height="48"/><text y="6">read-block-64000000-#13</text></g>
<g id="c1AR" transform="translate(532,6737)"><circle r="117"/><text y="6">read_block_from_file</text></g>

<g id="c2A" transform="translate(868,29)"><rect x="-73.5" y="-24" width="147" height="48"/><text y="6">('getitem-#30', 2)</text></g>
<g id="c2B" transform="translate(868,152)"><circle r="50.5"/><text y="6">getitem</text></g>
<g id="c2C" transform="translate(868,274)"><rect x="-64" y="-24" width="128" height="48"/><text y="6">('assign-#0', 2)</text></g>
<g id="c2D" transform="translate(868,439)"><circle r="93"/><text y="6">partial_by_order</text></g>
<g id="c2E" transform="translate(894,603)"><rect x="-61.5" y="-24" width="123" height="48"/><text y="6">('apply-#2', 2)</text></g>
<g id="c2F" transform="translate(901,796)"><circle r="121"/><text y="6">apply_and_enforce(...)</text></g>
<g id="c2G" transform="translate(879,990)"><rect x="-73.5" y="-24" width="147" height="48"/><text y="6">('getitem-#29', 2)</text></g>
<g id="c2H" transform="translate(869,1112)"><circle r="50.5"/><text y="6">getitem</text></g>
<g id="c2I" transform="translate(743,1234)"><rect x="-64" y="-24" width="128" height="48"/><text y="6">('assign-#1', 2)</text></g>
<g id="c2J" transform="translate(743,1399)"><circle r="93"/><text y="6">partial_by_order</text></g>
<g id="c2K" transform="translate(873,1564)"><rect x="-79.5" y="-24" width="159" height="48"/><text y="6">('str-replace-#4', 2)</text></g>
<g id="c2L" transform="translate(888,1757)"><circle r="121"/><text y="6">apply_and_enforce(...)</text></g>
<g id="c2M" transform="translate(865,1950)"><rect x="-73.5" y="-24" width="147" height="48"/><text y="6">('getitem-#28', 2)</text></g>
<g id="c2N" transform="translate(839,2073)"><circle r="50.5"/><text y="6">getitem</text></g>
<g id="c2O" transform="translate(790,2195)"><rect x="-64" y="-24" width="128" height="48"/><text y="6">('assign-#3', 2)</text></g>
<g id="c2P" transform="translate(790,2360)"><circle r="93"/><text y="6">partial_by_order</text></g>
<g id="c2Q" transform="translate(871,2524)"><rect x="-74" y="-24" width="148" height="48"/><text y="6">('str-lower-#5', 2)</text></g>
<g id="c2R" transform="translate(888,2718)"><circle r="121"/><text y="6">apply_and_enforce(...)</text></g>
<g id="c2S" transform="translate(867,2911)"><rect x="-73.5" y="-24" width="147" height="48"/><text y="6">('getitem-#27', 2)</text></g>
<g id="c2T" transform="translate(830,3033)"><circle r="50.5"/><text y="6">getitem</text></g>
<g id="c2U" transform="translate(783,3156)"><rect x="-64" y="-24" width="128" height="48"/><text y="6">('assign-#6', 2)</text></g>
<g id="c2V" transform="translate(783,3321)"><circle r="93"/><text y="6">partial_by_order</text></g>
<g id="c2W" transform="translate(882,3485)"><rect x="-90.5" y="-24" width="181" height="48"/><text y="6">('str-normalize-#8', 2)</text></g>
<g id="c2X" transform="translate(899,3678)"><circle r="121"/><text y="6">apply_and_enforce(...)</text></g>
<g id="c2Y" transform="translate(867,3872)"><rect x="-73.5" y="-24" width="147" height="48"/><text y="6">('getitem-#26', 2)</text></g>
<g id="c2Z" transform="translate(860,3994)"><circle r="50.5"/><text y="6">getitem</text></g>
<g id="c2AA" transform="translate(743,4116)"><rect x="-64" y="-24" width="128" height="48"/><text y="6">('assign-#7', 2)</text></g>
<g id="c2AB" transform="translate(743,4281)"><circle r="93"/><text y="6">partial_by_order</text></g>
<g id="c2AC" transform="translate(862,4445)"><rect x="-65" y="-24" width="130" height="48"/><text y="6">('astype-#9', 2)</text></g>
<g id="c2AD" transform="translate(892,4639)"><circle r="121"/><text y="6">apply_and_enforce(...)</text></g>
<g id="c2AE" transform="translate(871,4832)"><rect x="-73.5" y="-24" width="147" height="48"/><text y="6">('getitem-#25', 2)</text></g>
<g id="c2AF" transform="translate(835,4955)"><circle r="50.5"/><text y="6">getitem</text></g>
<g id="c2AG" transform="translate(743,5077)"><rect x="-69" y="-24" width="138" height="48"/><text y="6">('assign-#10', 2)</text></g>
<g id="c2AH" transform="translate(743,5242)"><circle r="93"/><text y="6">partial_by_order</text></g>
<g id="c2AI" transform="translate(828,5406)"><rect x="-72" y="-24" width="144" height="48"/><text y="6">('sample-#12', 2)</text></g>
<g id="c2AJ" transform="translate(828,5527)"><circle r="48"/><text y="6">sample</text></g>
<g id="c2AK" transform="translate(828,5647)"><rect x="-73.5" y="-24" width="147" height="48"/><text y="6">('getitem-#24', 2)</text></g>
<g id="c2AL" transform="translate(820,5770)"><circle r="50.5"/><text y="6">getitem</text></g>
<g id="c2AM" transform="translate(813,5892)"><rect x="-95.5" y="-24" width="191" height="48"/><text y="6">('from-delayed-#11', 2)</text></g>
<g id="c2AN" transform="translate(813,6035)"><circle r="71"/><text y="6">check_meta</text></g>
<g id="c2AO" transform="translate(813,6178)"><rect x="-91" y="-24" width="182" height="48"/><text y="6">pandas_read_text-#16</text></g>
<g id="c2AP" transform="translate(813,6363)"><circle r="114"/><text y="6">pandas_read_text(...)</text></g>
<g id="c2AQ" transform="translate(813,6549)"><rect x="-110" y="-24" width="220" height="48"/><text y="6">read-block-128000000-#13</text></g>
<g id="c2AR" transform="translate(813,6737)"><circle r="117"/><text y="6">read_block_from_file</text></g>

<g id="c3A" transform="translate(1080,29)"><rect x="-73.5" y="-24" width="147" height="48"/><text y="6">('getitem-#30', 3)</text></g>
<g id="c3B" transform="translate(1080,152)"><circle r="50.5"/><text y="6">getitem</text></g>
<g id="c3C" transform="translate(1080,274)"><rect x="-64" y="-24" width="128" height="48"/><text y="6">('assign-#0', 3)</text></g>
<g id="c3D" transform="translate(1080,439)"><circle r="93"/><text y="6">partial_by_order</text></g>
<g id="c3E" transform="translate(1206,603)"><rect x="-61.5" y="-24" width="123" height="48"/><text y="6">('apply-#2', 3)</text></g>
<g id="c3F" transform="translate(1232,796)"><circle r="121"/><text y="6">apply_and_enforce(...)</text></g>
<g id="c3G" transform="translate(1210,990)"><rect x="-73.5" y="-24" width="147" height="48"/><text y="6">('getitem-#29', 3)</text></g>
<g id="c3H" transform="translate(1180,1112)"><circle r="50.5"/><text y="6">getitem</text></g>
<g id="c3I" transform="translate(1127,1234)"><rect x="-64" y="-24" width="128" height="48"/><text y="6">('assign-#1', 3)</text></g>
<g id="c3J" transform="translate(1127,1399)"><circle r="93"/><text y="6">partial_by_order</text></g>
<g id="c3K" transform="translate(1200,1564)"><rect x="-79.5" y="-24" width="159" height="48"/><text y="6">('str-replace-#4', 3)</text></g>
<g id="c3L" transform="translate(1223,1757)"><circle r="121"/><text y="6">apply_and_enforce(...)</text></g>
<g id="c3M" transform="translate(1204,1950)"><rect x="-73.5" y="-24" width="147" height="48"/><text y="6">('getitem-#28', 3)</text></g>
<g id="c3N" transform="translate(1168,2073)"><circle r="50.5"/><text y="6">getitem</text></g>
<g id="c3O" transform="translate(1129,2195)"><rect x="-64" y="-24" width="128" height="48"/><text y="6">('assign-#3', 3)</text></g>
<g id="c3P" transform="translate(1129,2360)"><circle r="93"/><text y="6">partial_by_order</text></g>
<g id="c3Q" transform="translate(1212,2524)"><rect x="-74" y="-24" width="148" height="48"/><text y="6">('str-lower-#5', 3)</text></g>
<g id="c3R" transform="translate(1232,2718)"><circle r="121"/><text y="6">apply_and_enforce(...)</text></g>
<g id="c3S" transform="translate(1208,2911)"><rect x="-73.5" y="-24" width="147" height="48"/><text y="6">('getitem-#27', 3)</text></g>
<g id="c3T" transform="translate(1185,3033)"><circle r="50.5"/><text y="6">getitem</text></g>
<g id="c3U" transform="translate(1129,3156)"><rect x="-64" y="-24" width="128" height="48"/><text y="6">('assign-#6', 3)</text></g>
<g id="c3V" transform="translate(1129,3321)"><circle r="93"/><text y="6">partial_by_order</text></g>
<g id="c3W" transform="translate(1202,3485)"><rect x="-90.5" y="-24" width="181" height="48"/><text y="6">('str-normalize-#8', 3)</text></g>
<g id="c3X" transform="translate(1215,3678)"><circle r="121"/><text y="6">apply_and_enforce(...)</text></g>
<g id="c3Y" transform="translate(1198,3872)"><rect x="-73.5" y="-24" width="147" height="48"/><text y="6">('getitem-#26', 3)</text></g>
<g id="c3Z" transform="translate(1183,3994)"><circle r="50.5"/><text y="6">getitem</text></g>
<g id="c3AA" transform="translate(1168,4116)"><rect x="-64" y="-24" width="128" height="48"/><text y="6">('assign-#7', 3)</text></g>
<g id="c3AB" transform="translate(1168,4281)"><circle r="93"/><text y="6">partial_by_order</text></g>
<g id="c3AC" transform="translate(1193,4445)"><rect x="-65" y="-24" width="130" height="48"/><text y="6">('astype-#9', 3)</text></g>
<g id="c3AD" transform="translate(1208,4639)"><circle r="121"/><text y="6">apply_and_enforce(...)</text></g>
<g id="c3AE" transform="translate(1195,4832)"><rect x="-73.5" y="-24" width="147" height="48"/><text y="6">('getitem-#25', 3)</text></g>
<g id="c3AF" transform="translate(1155,4955)"><circle r="50.5"/><text y="6">getitem</text></g>
<g id="c3AG" transform="translate(1087,5077)"><rect x="-69" y="-24" width="138" height="48"/><text y="6">('assign-#10', 3)</text></g>
<g id="c3AH" transform="translate(1087,5242)"><circle r="93"/><text y="6">partial_by_order</text></g>
<g id="c3AI" transform="translate(1170,5406)"><rect x="-72" y="-24" width="144" height="48"/><text y="6">('sample-#12', 3)</text></g>
<g id="c3AJ" transform="translate(1170,5527)"><circle r="48"/><text y="6">sample</text></g>
<g id="c3AK" transform="translate(1170,5647)"><rect x="-73.5" y="-24" width="147" height="48"/><text y="6">('getitem-#24', 3)</text></g>
<g id="c3AL" transform="translate(1163,5770)"><circle r="50.5"/><text y="6">getitem</text></g>
<g id="c3AM" transform="translate(1097,5892)"><rect x="-95.5" y="-24" width="191" height="48"/><text y="6">('from-delayed-#11', 3)</text></g>
<g id="c3AN" transform="translate(1097,6035)"><circle r="71"/><text y="6">check_meta</text></g>
<g id="c3AO" transform="translate(1097,6178)"><rect x="-91" y="-24" width="182" height="48"/><text y="6">pandas_read_text-#17</text></g>
<g id="c3AP" transform="translate(1097,6363)"><circle r="114"/><text y="6">pandas_read_text(...)</text></g>
<g id="c3AQ" transform="translate(1097,6549)"><rect x="-110" y="-24" width="220" height="48"/><text y="6">read-block-192000000-#13</text></g>
<g id="c3AR" transform="translate(1097,6737)"><circle r="117"/><text y="6">read_block_from_file</text></g>

<g id="c4A" transform="translate(1443,29)"><rect x="-73.5" y="-24" width="147" height="48"/><text y="6">('getitem-#30', 4)</text></g>
<g id="c4B" transform="translate(1443,152)"><circle r="50.5"/><text y="6">getitem</text></g>
<g id="c4C" transform="translate(1443,274)"><rect x="-64" y="-24" width="128" height="48"/><text y="6">('assign-#0', 4)</text></g>
<g id="c4D" transform="translate(1443,439)"><circle r="93"/><text y="6">partial_by_order</text></g>
<g id="c4E" transform="translate(1524,603)"><rect x="-61.5" y="-24" width="123" height="48"/><text y="6">('apply-#2', 4)</text></g>
<g id="c4F" transform="translate(1548,796)"><circle r="121"/><text y="6">apply_and_enforce(...)</text></g>
<g id="c4G" transform="translate(1531,990)"><rect x="-73.5" y="-24" width="147" height="48"/><text y="6">('getitem-#29', 4)</text></g>
<g id="c4H" transform="translate(1501,1112)"><circle r="50.5"/><text y="6">getitem</text></g>
<g id="c4I" transform="translate(1392,1234)"><rect x="-64" y="-24" width="128" height="48"/><text y="6">('assign-#1', 4)</text></g>
<g id="c4J" transform="translate(1392,1399)"><circle r="93"/><text y="6">partial_by_order</text></g>
<g id="c4K" transform="translate(1526,1564)"><rect x="-79.5" y="-24" width="159" height="48"/><text y="6">('str-replace-#4', 4)</text></g>
<g id="c4L" transform="translate(1548,1757)"><circle r="121"/><text y="6">apply_and_enforce(...)</text></g>
<g id="c4M" transform="translate(1528,1950)"><rect x="-73.5" y="-24" width="147" height="48"/><text y="6">('getitem-#28', 4)</text></g>
<g id="c4N" transform="translate(1490,2073)"><circle r="50.5"/><text y="6">getitem</text></g>
<g id="c4O" transform="translate(1445,2195)"><rect x="-64" y="-24" width="128" height="48"/><text y="6">('assign-#3', 4)</text></g>
<g id="c4P" transform="translate(1445,2360)"><circle r="93"/><text y="6">partial_by_order</text></g>
<g id="c4Q" transform="translate(1528,2524)"><rect x="-74" y="-24" width="148" height="48"/><text y="6">('str-lower-#5', 4)</text></g>
<g id="c4R" transform="translate(1550,2718)"><circle r="121"/><text y="6">apply_and_enforce(...)</text></g>
<g id="c4S" transform="translate(1528,2911)"><rect x="-73.5" y="-24" width="147" height="48"/><text y="6">('getitem-#27', 4)</text></g>
<g id="c4T" transform="translate(1496,3033)"><circle r="50.5"/><text y="6">getitem</text></g>
<g id="c4U" transform="translate(1445,3156)"><rect x="-64" y="-24" width="128" height="48"/><text y="6">('assign-#6', 4)</text></g>
<g id="c4V" transform="translate(1445,3321)"><circle r="93"/><text y="6">partial_by_order</text></g>
<g id="c4W" transform="translate(1518,3485)"><rect x="-90.5" y="-24" width="181" height="48"/><text y="6">('str-normalize-#8', 4)</text></g>
<g id="c4X" transform="translate(1533,3678)"><circle r="121"/><text y="6">apply_and_enforce(...)</text></g>
<g id="c4Y" transform="translate(1507,3872)"><rect x="-73.5" y="-24" width="147" height="48"/><text y="6">('getitem-#26', 4)</text></g>
<g id="c4Z" transform="translate(1481,3994)"><circle r="50.5"/><text y="6">getitem</text></g>
<g id="c4AA" transform="translate(1430,4116)"><rect x="-64" y="-24" width="128" height="48"/><text y="6">('assign-#7', 4)</text></g>
<g id="c4AB" transform="translate(1430,4281)"><circle r="93"/><text y="6">partial_by_order</text></g>
<g id="c4AC" transform="translate(1513,4445)"><rect x="-65" y="-24" width="130" height="48"/><text y="6">('astype-#9', 4)</text></g>
<g id="c4AD" transform="translate(1539,4639)"><circle r="121"/><text y="6">apply_and_enforce(...)</text></g>
<g id="c4AE" transform="translate(1513,4832)"><rect x="-73.5" y="-24" width="147" height="48"/><text y="6">('getitem-#25', 4)</text></g>
<g id="c4AF" transform="translate(1492,4955)"><circle r="50.5"/><text y="6">getitem</text></g>
<g id="c4AG" transform="translate(1392,5077)"><rect x="-69" y="-24" width="138" height="48"/><text y="6">('assign-#10', 4)</text></g>
<g id="c4AH" transform="translate(1392,5242)"><circle r="93"/><text y="6">partial_by_order</text></g>
<g id="c4AI" transform="translate(1496,5406)"><rect x="-72" y="-24" width="144" height="48"/><text y="6">('sample-#12', 4)</text></g>
<g id="c4AJ" transform="translate(1496,5527)"><circle r="48"/><text y="6">sample</text></g>
<g id="c4AK" transform="translate(1496,5647)"><rect x="-73.5" y="-24" width="147" height="48"/><text y="6">('getitem-#24', 4)</text></g>
<g id="c4AL" transform="translate(1481,5770)"><circle r="50.5"/><text y="6">getitem</text></g>
<g id="c4AM" transform="translate(1477,5892)"><rect x="-95.5" y="-24" width="191" height="48"/><text y="6">('from-delayed-#11', 4)</text></g>
<g id="c4AN" transform="translate(1477,6035)"><circle r="71"/><text y="6">check_meta</text></g>
<g id="c4AO" transform="translate(1477,6178)"><rect x="-91" y="-24" width="182" height="48"/><text y="6">pandas_read_text-#18</text></g>
<g id="c4AP" transform="translate(1477,6363)"><circle r="114"/><text y="6">pandas_read_text(...)</text></g>
<g id="c4AQ" transform="translate(1477,6549)"><rect x="-110" y="-24" width="220" height="48"/><text y="6">read-block-256000000-#13</text></g>
<g id="c4AR" transform="translate(1477,6737)"><circle r="117"/><text y="6">read_block_from_file</text></g>

<g id="c5A" transform="translate(1767,29)"><rect x="-73.5" y="-24" width="147" height="48"/><text y="6">('getitem-#30', 5)</text></g>
<g id="c5B" transform="translate(1767,152)"><circle r="50.5"/><text y="6">getitem</text></g>
<g id="c5C" transform="translate(1767,274)"><rect x="-64" y="-24" width="128" height="48"/><text y="6">('assign-#0', 5)</text></g>
<g id="c5D" transform="translate(1767,439)"><circle r="93"/><text y="6">partial_by_order</text></g>
<g id="c5E" transform="translate(1836,603)"><rect x="-61.5" y="-24" width="123" height="48"/><text y="6">('apply-#2', 5)</text></g>
<g id="c5F" transform="translate(1864,796)"><circle r="121"/><text y="6">apply_and_enforce(...)</text></g>
<g id="c5G" transform="translate(1836,990)"><rect x="-73.5" y="-24" width="147" height="48"/><text y="6">('getitem-#29', 5)</text></g>
<g id="c5H" transform="translate(1825,1112)"><circle r="50.5"/><text y="6">getitem</text></g>
<g id="c5I" transform="translate(1765,1234)"><rect x="-64" y="-24" width="128" height="48"/><text y="6">('assign-#1', 5)</text></g>
<g id="c5J" transform="translate(1765,1399)"><circle r="93"/><text y="6">partial_by_order</text></g>
<g id="c5K" transform="translate(1844,1564)"><rect x="-79.5" y="-24" width="159" height="48"/><text y="6">('str-replace-#4', 5)</text></g>
<g id="c5L" transform="translate(1857,1757)"><circle r="121"/><text y="6">apply_and_enforce(...)</text></g>
<g id="c5M" transform="translate(1849,1950)"><rect x="-73.5" y="-24" width="147" height="48"/><text y="6">('getitem-#28', 5)</text></g>
<g id="c5N" transform="translate(1829,2073)"><circle r="50.5"/><text y="6">getitem</text></g>
<g id="c5O" transform="translate(1763,2195)"><rect x="-64" y="-24" width="128" height="48"/><text y="6">('assign-#3', 5)</text></g>
<g id="c5P" transform="translate(1763,2360)"><circle r="93"/><text y="6">partial_by_order</text></g>
<g id="c5Q" transform="translate(1844,2524)"><rect x="-74" y="-24" width="148" height="48"/><text y="6">('str-lower-#5', 5)</text></g>
<g id="c5R" transform="translate(1857,2718)"><circle r="121"/><text y="6">apply_and_enforce(...)</text></g>
<g id="c5S" transform="translate(1846,2911)"><rect x="-73.5" y="-24" width="147" height="48"/><text y="6">('getitem-#27', 5)</text></g>
<g id="c5T" transform="translate(1821,3033)"><circle r="50.5"/><text y="6">getitem</text></g>
<g id="c5U" transform="translate(1770,3156)"><rect x="-64" y="-24" width="128" height="48"/><text y="6">('assign-#6', 5)</text></g>
<g id="c5V" transform="translate(1770,3321)"><circle r="93"/><text y="6">partial_by_order</text></g>
<g id="c5W" transform="translate(1849,3485)"><rect x="-90.5" y="-24" width="181" height="48"/><text y="6">('str-normalize-#8', 5)</text></g>
<g id="c5X" transform="translate(1864,3678)"><circle r="121"/><text y="6">apply_and_enforce(...)</text></g>
<g id="c5Y" transform="translate(1836,3872)"><rect x="-73.5" y="-24" width="147" height="48"/><text y="6">('getitem-#26', 5)</text></g>
<g id="c5Z" transform="translate(1825,3994)"><circle r="50.5"/><text y="6">getitem</text></g>
<g id="c5AA" transform="translate(1793,4116)"><rect x="-64" y="-24" width="128" height="48"/><text y="6">('assign-#7', 5)</text></g>
<g id="c5AB" transform="translate(1793,4281)"><circle r="93"/><text y="6">partial_by_order</text></g>
<g id="c5AC" transform="translate(1834,4445)"><rect x="-65" y="-24" width="130" height="48"/><text y="6">('astype-#9', 5)</text></g>
<g id="c5AD" transform="translate(1855,4639)"><circle r="121"/><text y="6">apply_and_enforce(...)</text></g>
<g id="c5AE" transform="translate(1831,4832)"><rect x="-73.5" y="-24" width="147" height="48"/><text y="6">('getitem-#25', 5)</text></g>
<g id="c5AF" transform="translate(1831,4955)"><circle r="50.5"/><text y="6">getitem</text></g>
<g id="c5AG" transform="translate(1738,5077)"><rect x="-69" y="-24" width="138" height="48"/><text y="6">('assign-#10', 5)</text></g>
<g id="c5AH" transform="translate(1738,5242)"><circle r="93"/><text y="6">partial_by_order</text></g>
<g id="c5AI" transform="translate(1772,5406)"><rect x="-72" y="-24" width="144" height="48"/><text y="6">('sample-#12', 5)</text></g>
<g id="c5AJ" transform="translate(1772,5527)"><circle r="48"/><text y="6">sample</text></g>
<g id="c5AK" transform="translate(1772,5647)"><rect x="-73.5" y="-24" width="147" height="48"/><text y="6">('getitem-#24', 5)</text></g>
<g id="c5AL" transform="translate(1763,5770)"><circle r="50.5"/><text y="6">getitem</text></g>
<g id="c5AM" transform="translate(1738,5892)"><rect x="-95.5" y="-24" width="191" height="48"/><text y="6">('from-delayed-#11', 5)</text></g>
<g id="c5AN" transform="translate(1738,6035)"><circle r="71"/><text y="6">check_meta</text></g>
<g id="c5AO" transform="translate(1738,6178)"><rect x="-91" y="-24" width="182" height="48"/><text y="6">pandas_read_text-#19</text></g>
<g id="c5AP" transform="translate(1738,6363)"><circle r="114"/><text y="6">pandas_read_text(...)</text></g>
<g id="c5AQ" transform="translate(1738,6549)"><rect x="-110" y="-24" width="220" height="48"/><text y="6">read-block-320000000-#13</text></g>
<g id="c5AR" transform="translate(1738,6737)"><circle r="117"/><text y="6">read_block_from_file</text></g>

<g id="c6A" transform="translate(2106,29)"><rect x="-73.5" y="-24" width="147" height="48"/><text y="6">('getitem-#30', 6)</text></g>
<g id="c6B" transform="translate(2106,152)"><circle r="50.5"/><text y="6">getitem</text></g>
<g id="c6C" transform="translate(2106,274)"><rect x="-64" y="-24" width="128" height="48"/><text y="6">('assign-#0', 6)</text></g>
<g id="c6D" transform="translate(2106,439)"><circle r="93"/><text y="6">partial_by_order</text></g>
<g id="c6E" transform="translate(2182,603)"><rect x="-61.5" y="-24" width="123" height="48"/><text y="6">('apply-#2', 6)</text></g>
<g id="c6F" transform="translate(2207,796)"><circle r="121"/><text y="6">apply_and_enforce(...)</text></g>
<g id="c6G" transform="translate(2182,990)"><rect x="-73.5" y="-24" width="147" height="48"/><text y="6">('getitem-#29', 6)</text></g>
<g id="c6H" transform="translate(2162,1112)"><circle r="50.5"/><text y="6">getitem</text></g>
<g id="c6I" transform="translate(2098,1234)"><rect x="-64" y="-24" width="128" height="48"/><text y="6">('assign-#1', 6)</text></g>
<g id="c6J" transform="translate(2098,1399)"><circle r="93"/><text y="6">partial_by_order</text></g>
<g id="c6K" transform="translate(2169,1564)"><rect x="-79.5" y="-24" width="159" height="48"/><text y="6">('str-replace-#4', 6)</text></g>
<g id="c6L" transform="translate(2182,1757)"><circle r="121"/><text y="6">apply_and_enforce(...)</text></g>
<g id="c6M" transform="translate(2169,1950)"><rect x="-73.5" y="-24" width="147" height="48"/><text y="6">('getitem-#28', 6)</text></g>
<g id="c6N" transform="translate(2130,2073)"><circle r="50.5"/><text y="6">getitem</text></g>
<g id="c6O" transform="translate(2079,2195)"><rect x="-64" y="-24" width="128" height="48"/><text y="6">('assign-#3', 6)</text></g>
<g id="c6P" transform="translate(2079,2360)"><circle r="93"/><text y="6">partial_by_order</text></g>
<g id="c6Q" transform="translate(2162,2524)"><rect x="-74" y="-24" width="148" height="48"/><text y="6">('str-lower-#5', 6)</text></g>
<g id="c6R" transform="translate(2182,2718)"><circle r="121"/><text y="6">apply_and_enforce(...)</text></g>
<g id="c6S" transform="translate(2179,2911)"><rect x="-73.5" y="-24" width="147" height="48"/><text y="6">('getitem-#27', 6)</text></g>
<g id="c6T" transform="translate(2169,3033)"><circle r="50.5"/><text y="6">getitem</text></g>
<g id="c6U" transform="translate(2160,3156)"><rect x="-64" y="-24" width="128" height="48"/><text y="6">('assign-#6', 6)</text></g>
<g id="c6V" transform="translate(2160,3321)"><circle r="93"/><text y="6">partial_by_order</text></g>
<g id="c6W" transform="translate(2167,3485)"><rect x="-90.5" y="-24" width="181" height="48"/><text y="6">('str-normalize-#8', 6)</text></g>
<g id="c6X" transform="translate(2179,3678)"><circle r="121"/><text y="6">apply_and_enforce(...)</text></g>
<g id="c6Y" transform="translate(2164,3872)"><rect x="-73.5" y="-24" width="147" height="48"/><text y="6">('getitem-#26', 6)</text></g>
<g id="c6Z" transform="translate(2126,3994)"><circle r="50.5"/><text y="6">getitem</text></g>
<g id="c6AA" transform="translate(2053,4116)"><rect x="-64" y="-24" width="128" height="48"/><text y="6">('assign-#7', 6)</text></g>
<g id="c6AB" transform="translate(2053,4281)"><circle r="93"/><text y="6">partial_by_order</text></g>
<g id="c6AC" transform="translate(2150,4445)"><rect x="-65" y="-24" width="130" height="48"/><text y="6">('astype-#9', 6)</text></g>
<g id="c6AD" transform="translate(2175,4639)"><circle r="121"/><text y="6">apply_and_enforce(...)</text></g>
<g id="c6AE" transform="translate(2150,4832)"><rect x="-73.5" y="-24" width="147" height="48"/><text y="6">('getitem-#25', 6)</text></g>
<g id="c6AF" transform="translate(2128,4955)"><circle r="50.5"/><text y="6">getitem</text></g>
<g id="c6AG" transform="translate(2015,5077)"><rect x="-69" y="-24" width="138" height="48"/><text y="6">('assign-#10', 6)</text></g>
<g id="c6AH" transform="translate(2015,5242)"><circle r="93"/><text y="6">partial_by_order</text></g>
<g id="c6AI" transform="translate(2024,5406)"><rect x="-72" y="-24" width="144" height="48"/><text y="6">('sample-#12', 6)</text></g>
<g id="c6AJ" transform="translate(2024,5527)"><circle r="48"/><text y="6">sample</text></g>
<g id="c6AK" transform="translate(2024,5647)"><rect x="-73.5" y="-24" width="147" height="48"/><text y="6">('getitem-#24', 6)</text></g>
<g id="c6AL" transform="translate(2004,5770)"><circle r="50.5"/><text y="6">getitem</text></g>
<g id="c6AM" transform="translate(2002,5892)"><rect x="-95.5" y="-24" width="191" height="48"/><text y="6">('from-delayed-#11', 6)</text></g>
<g id="c6AN" transform="translate(2002,6035)"><circle r="71"/><text y="6">check_meta</text></g>
<g id="c6AO" transform="translate(2002,6178)"><rect x="-91" y="-24" width="182" height="48"/><text y="6">pandas_read_text-#20</text></g>
<g id="c6AP" transform="translate(2002,6363)"><circle r="114"/><text y="6">pandas_read_text(...)</text></g>
<g id="c6AQ" transform="translate(2002,6549)"><rect x="-110" y="-24" width="220" height="48"/><text y="6">read-block-384000000-#13</text></g>
<g id="c6AR" transform="translate(2002,6737)"><circle r="117"/><text y="6">read_block_from_file</text></g>

<g id="c7A" transform="translate(2436,29)"><rect x="-73.5" y="-24" width="147" height="48"/><text y="6">('getitem-#30', 7)</text></g>
<g id="c7B" transform="translate(2436,152)"><circle r="50.5"/><text y="6">getitem</text></g>
<g id="c7C" transform="translate(2436,274)"><rect x="-64" y="-24" width="128" height="48"/><text y="6">('assign-#0', 7)</text></g>
<g id="c7D" transform="translate(2436,439)"><circle r="93"/><text y="6">partial_by_order</text></g>
<g id="c7E" transform="translate(2497,603)"><rect x="-61.5" y="-24" width="123" height="48"/><text y="6">('apply-#2', 7)</text></g>
<g id="c7F" transform="translate(2525,796)"><circle r="121"/><text y="6">apply_and_enforce(...)</text></g>
<g id="c7G" transform="translate(2483,990)"><rect x="-73.5" y="-24" width="147" height="48"/><text y="6">('getitem-#29', 7)</text></g>
<g id="c7H" transform="translate(2468,1112)"><circle r="50.5"/><text y="6">getitem</text></g>
<g id="c7I" transform="translate(2448,1234)"><rect x="-64" y="-24" width="128" height="48"/><text y="6">('assign-#1', 7)</text></g>
<g id="c7J" transform="translate(2448,1399)"><circle r="93"/><text y="6">partial_by_order</text></g>
<g id="c7K" transform="translate(2476,1564)"><rect x="-79.5" y="-24" width="159" height="48"/><text y="6">('str-replace-#4', 7)</text></g>
<g id="c7L" transform="translate(2497,1757)"><circle r="121"/><text y="6">apply_and_enforce(...)</text></g>
<g id="c7M" transform="translate(2485,1950)"><rect x="-73.5" y="-24" width="147" height="48"/><text y="6">('getitem-#28', 7)</text></g>
<g id="c7N" transform="translate(2448,2073)"><circle r="50.5"/><text y="6">getitem</text></g>
<g id="c7O" transform="translate(2350,2195)"><rect x="-64" y="-24" width="128" height="48"/><text y="6">('assign-#3', 7)</text></g>
<g id="c7P" transform="translate(2350,2360)"><circle r="93"/><text y="6">partial_by_order</text></g>
<g id="c7Q" transform="translate(2485,2524)"><rect x="-74" y="-24" width="148" height="48"/><text y="6">('str-lower-#5', 7)</text></g>
<g id="c7R" transform="translate(2495,2718)"><circle r="121"/><text y="6">apply_and_enforce(...)</text></g>
<g id="c7S" transform="translate(2485,2911)"><rect x="-73.5" y="-24" width="147" height="48"/><text y="6">('getitem-#27', 7)</text></g>
<g id="c7T" transform="translate(2455,3033)"><circle r="50.5"/><text y="6">getitem</text></g>
<g id="c7U" transform="translate(2399,3156)"><rect x="-64" y="-24" width="128" height="48"/><text y="6">('assign-#6', 7)</text></g>
<g id="c7V" transform="translate(2399,3321)"><circle r="93"/><text y="6">partial_by_order</text></g>
<g id="c7W" transform="translate(2483,3485)"><rect x="-90.5" y="-24" width="181" height="48"/><text y="6">('str-normalize-#8', 7)</text></g>
<g id="c7X" transform="translate(2495,3678)"><circle r="121"/><text y="6">apply_and_enforce(...)</text></g>
<g id="c7Y" transform="translate(2470,3872)"><rect x="-73.5" y="-24" width="147" height="48"/><text y="6">('getitem-#26', 7)</text></g>
<g id="c7Z" transform="translate(2457,3994)"><circle r="50.5"/><text y="6">getitem</text></g>
<g id="c7AA" transform="translate(2442,4116)"><rect x="-64" y="-24" width="128" height="48"/><text y="6">('assign-#7', 7)</text></g>
<g id="c7AB" transform="translate(2442,4281)"><circle r="93"/><text y="6">partial_by_order</text></g>
<g id="c7AC" transform="translate(2463,4445)"><rect x="-65" y="-24" width="130" height="48"/><text y="6">('astype-#9', 7)</text></g>
<g id="c7AD" transform="translate(2493,4639)"><circle r="121"/><text y="6">apply_and_enforce(...)</text></g>
<g id="c7AE" transform="translate(2470,4832)"><rect x="-73.5" y="-24" width="147" height="48"/><text y="6">('getitem-#25', 7)</text></g>
<g id="c7AF" transform="translate(2444,4955)"><circle r="50.5"/><text y="6">getitem</text></g>
<g id="c7AG" transform="translate(2395,5077)"><rect x="-69" y="-24" width="138" height="48"/><text y="6">('assign-#10', 7)</text></g>
<g id="c7AH" transform="translate(2395,5242)"><circle r="93"/><text y="6">partial_by_order</text></g>
<g id="c7AI" transform="translate(2483,5406)"><rect x="-72" y="-24" width="144" height="48"/><text y="6">('sample-#12', 7)</text></g>
<g id="c7AJ" transform="translate(2483,5527)"><circle r="48"/><text y="6">sample</text></g>
<g id="c7AK" transform="translate(2483,5647)"><rect x="-73.5" y="-24" width="147" height="48"/><text y="6">('getitem-#24', 7)</text></g>
<g id="c7AL" transform="translate(2468,5770)"><circle r="50.5"/><text y="6">getitem</text></g>
<g id="c7AM" transform="translate(2444,5892)"><rect x="-95.5" y="-24" width="191" height="48"/><text y="6">('from-delayed-#11', 7)</text></g>
<g id="c7AN" transform="translate(2444,6035)"><circle r="71"/><text y="6">check_meta</text></g>
<g id="c7AO" transform="translate(2444,6178)"><rect x="-91" y="-24" width="182" height="48"/><text y="6">pandas_read_text-#21</text></g>
<g id="c7AP" transform="translate(2444,6363)"><circle r="114"/><text y="6">pandas_read_text(...)</text></g>
<g id="c7AQ" transform="translate(2444,6549)"><rect x="-110" y="-24" width="220" height="48"/><text y="6">read-block-448000000-#13</text></g>
<g id="c7AR" transform="translate(2444,6737)"><circle r="117"/><text y="6">read_block_from_file</text></g>

<g id="c8A" transform="translate(2743,29)"><rect x="-73.5" y="-24" width="147" height="48"/><text y="6">('getitem-#30', 8)</text></g>
<g id="c8B" transform="translate(2743,152)"><circle r="50.5"/><text y="6">getitem</text></g>
<g id="c8C" transform="translate(2743,274)"><rect x="-64" y="-24" width="128" height="48"/><text y="6">('assign-#0', 8)</text></g>
<g id="c8D" transform="translate(2743,439)"><circle r="93"/><text y="6">partial_by_order</text></g>
<g id="c8E" transform="translate(2824,603)"><rect x="-61.5" y="-24" width="123" height="48"/><text y="6">('apply-#2', 8)</text></g>
<g id="c8F" transform="translate(2850,796)"><circle r="121"/><text y="6">apply_and_enforce(...)</text></g>
<g id="c8G" transform="translate(2824,990)"><rect x="-73.5" y="-24" width="147" height="48"/><text y="6">('getitem-#29', 8)</text></g>
<g id="c8H" transform="translate(2794,1112)"><circle r="50.5"/><text y="6">getitem</text></g>
<g id="c8I" transform="translate(2734,1234)"><rect x="-64" y="-24" width="128" height="48"/><text y="6">('assign-#1', 8)</text></g>
<g id="c8J" transform="translate(2734,1399)"><circle r="93"/><text y="6">partial_by_order</text></g>
<g id="c8K" transform="translate(2796,1564)"><rect x="-79.5" y="-24" width="159" height="48"/><text y="6">('str-replace-#4', 8)</text></g>
<g id="c8L" transform="translate(2818,1757)"><circle r="121"/><text y="6">apply_and_enforce(...)</text></g>
<g id="c8M" transform="translate(2792,1950)"><rect x="-73.5" y="-24" width="147" height="48"/><text y="6">('getitem-#28', 8)</text></g>
<g id="c8N" transform="translate(2773,2073)"><circle r="50.5"/><text y="6">getitem</text></g>
<g id="c8O" transform="translate(2720,2195)"><rect x="-64" y="-24" width="128" height="48"/><text y="6">('assign-#3', 8)</text></g>
<g id="c8P" transform="translate(2720,2360)"><circle r="93"/><text y="6">partial_by_order</text></g>
<g id="c8Q" transform="translate(2803,2524)"><rect x="-74" y="-24" width="148" height="48"/><text y="6">('str-lower-#5', 8)</text></g>
<g id="c8R" transform="translate(2822,2718)"><circle r="121"/><text y="6">apply_and_enforce(...)</text></g>
<g id="c8S" transform="translate(2801,2911)"><rect x="-73.5" y="-24" width="147" height="48"/><text y="6">('getitem-#27', 8)</text></g>
<g id="c8T" transform="translate(2758,3033)"><circle r="50.5"/><text y="6">getitem</text></g>
<g id="c8U" transform="translate(2711,3156)"><rect x="-64" y="-24" width="128" height="48"/><text y="6">('assign-#6', 8)</text></g>
<g id="c8V" transform="translate(2711,3321)"><circle r="93"/><text y="6">partial_by_order</text></g>
<g id="c8W" transform="translate(2798,3485)"><rect x="-90.5" y="-24" width="181" height="48"/><text y="6">('str-normalize-#8', 8)</text></g>
<g id="c8X" transform="translate(2813,3678)"><circle r="121"/><text y="6">apply_and_enforce(...)</text></g>
<g id="c8Y" transform="translate(2786,3872)"><rect x="-73.5" y="-24" width="147" height="48"/><text y="6">('getitem-#26', 8)</text></g>
<g id="c8Z" transform="translate(2766,3994)"><circle r="50.5"/><text y="6">getitem</text></g>
<g id="c8AA" transform="translate(2673,4116)"><rect x="-64" y="-24" width="128" height="48"/><text y="6">('assign-#7', 8)</text></g>
<g id="c8AB" transform="translate(2673,4281)"><circle r="93"/><text y="6">partial_by_order</text></g>
<g id="c8AC" transform="translate(2788,4445)"><rect x="-65" y="-24" width="130" height="48"/><text y="6">('astype-#9', 8)</text></g>
<g id="c8AD" transform="translate(2813,4639)"><circle r="121"/><text y="6">apply_and_enforce(...)</text></g>
<g id="c8AE" transform="translate(2788,4832)"><rect x="-73.5" y="-24" width="147" height="48"/><text y="6">('getitem-#25', 8)</text></g>
<g id="c8AF" transform="translate(2769,4955)"><circle r="50.5"/><text y="6">getitem</text></g>
<g id="c8AG" transform="translate(2766,5077)"><rect x="-69" y="-24" width="138" height="48"/><text y="6">('assign-#10', 8)</text></g>
<g id="c8AH" transform="translate(2766,5242)"><circle r="93"/><text y="6">partial_by_order</text></g>
<g id="c8AI" transform="translate(2775,5406)"><rect x="-72" y="-24" width="144" height="48"/><text y="6">('sample-#12', 8)</text></g>
<g id="c8AJ" transform="translate(2775,5527)"><circle r="48"/><text y="6">sample</text></g>
<g id="c8AK" transform="translate(2775,5647)"><rect x="-73.5" y="-24" width="147" height="48"/><text y="6">('getitem-#24', 8)</text></g>
<g id="c8AL" transform="translate(2760,5770)"><circle r="50.5"/><text y="6">getitem</text></g>
<g id="c8AM" transform="translate(2707,5892)"><rect x="-95.5" y="-24" width="191" height="48"/><text y="6">('from-delayed-#11', 8)</text></g>
<g id="c8AN" transform="translate(2707,6035)"><circle r="71"/><text y="6">check_meta</text></g>
<g id="c8AO" transform="translate(2707,6178)"><rect x="-91" y="-24" width="182" height="48"/><text y="6">pandas_read_text-#22</text></g>
<g id="c8AP" transform="translate(2707,6363)"><circle r="114"/><text y="6">pandas_read_text(...)</text></g>
<g id="c8AQ" transform="translate(2707,6549)"><rect x="-110" y="-24" width="220" height="48"/><text y="6">read-block-512000000-#13</text></g>
<g id="c8AR" transform="translate(2707,6737)"><circle r="117"/><text y="6">read_block_from_file</text></g>

<g id="c9A" transform="translate(3125,29)"><rect x="-73.5" y="-24" width="147" height="48"/><text y="6">('getitem-#30', 9)</text></g>
<g id="c9B" transform="translate(3125,152)"><circle r="50.5"/><text y="6">getitem</text></g>
<g id="c9C" transform="translate(3125,274)"><rect x="-64" y="-24" width="128" height="48"/><text y="6">('assign-#0', 9)</text></g>
<g id="c9D" transform="translate(3125,439)"><circle r="93"/><text y="6">partial_by_order</text></g>
<g id="c9E" transform="translate(3189,603)"><rect x="-61.5" y="-24" width="123" height="48"/><text y="6">('apply-#2', 9)</text></g>
<g id="c9F" transform="translate(3217,796)"><circle r="121"/><text y="6">apply_and_enforce(...)</text></g>
<g id="c9G" transform="translate(3193,990)"><rect x="-73.5" y="-24" width="147" height="48"/><text y="6">('getitem-#29', 9)</text></g>
<g id="c9H" transform="translate(3172,1112)"><circle r="50.5"/><text y="6">getitem</text></g>
<g id="c9I" transform="translate(3089,1234)"><rect x="-64" y="-24" width="128" height="48"/><text y="6">('assign-#1', 9)</text></g>
<g id="c9J" transform="translate(3089,1399)"><circle r="93"/><text y="6">partial_by_order</text></g>
<g id="c9K" transform="translate(3121,1564)"><rect x="-79.5" y="-24" width="159" height="48"/><text y="6">('str-replace-#4', 9)</text></g>
<g id="c9L" transform="translate(3136,1757)"><circle r="121"/><text y="6">apply_and_enforce(...)</text></g>
<g id="c9M" transform="translate(3112,1950)"><rect x="-73.5" y="-24" width="147" height="48"/><text y="6">('getitem-#28', 9)</text></g>
<g id="c9N" transform="translate(3087,2073)"><circle r="50.5"/><text y="6">getitem</text></g>
<g id="c9O" transform="translate(2980,2195)"><rect x="-64" y="-24" width="128" height="48"/><text y="6">('assign-#3', 9)</text></g>
<g id="c9P" transform="translate(2980,2360)"><circle r="93"/><text y="6">partial_by_order</text></g>
<g id="c9Q" transform="translate(3117,2524)"><rect x="-74" y="-24" width="148" height="48"/><text y="6">('str-lower-#5', 9)</text></g>
<g id="c9R" transform="translate(3140,2718)"><circle r="121"/><text y="6">apply_and_enforce(...)</text></g>
<g id="c9S" transform="translate(3114,2911)"><rect x="-73.5" y="-24" width="147" height="48"/><text y="6">('getitem-#27', 9)</text></g>
<g id="c9T" transform="translate(3089,3033)"><circle r="50.5"/><text y="6">getitem</text></g>
<g id="c9U" transform="translate(2980,3156)"><rect x="-64" y="-24" width="128" height="48"/><text y="6">('assign-#6', 9)</text></g>
<g id="c9V" transform="translate(2980,3321)"><circle r="93"/><text y="6">partial_by_order</text></g>
<g id="c9W" transform="translate(3114,3485)"><rect x="-90.5" y="-24" width="181" height="48"/><text y="6">('str-normalize-#8', 9)</text></g>
<g id="c9X" transform="translate(3131,3678)"><circle r="121"/><text y="6">apply_and_enforce(...)</text></g>
<g id="c9Y" transform="translate(3104,3872)"><rect x="-73.5" y="-24" width="147" height="48"/><text y="6">('getitem-#26', 9)</text></g>
<g id="c9Z" transform="translate(3082,3994)"><circle r="50.5"/><text y="6">getitem</text></g>
<g id="c9AA" transform="translate(2978,4116)"><rect x="-64" y="-24" width="128" height="48"/><text y="6">('assign-#7', 9)</text></g>
<g id="c9AB" transform="translate(2978,4281)"><circle r="93"/><text y="6">partial_by_order</text></g>
<g id="c9AC" transform="translate(3102,4445)"><rect x="-65" y="-24" width="130" height="48"/><text y="6">('astype-#9', 9)</text></g>
<g id="c9AD" transform="translate(3129,4639)"><circle r="121"/><text y="6">apply_and_enforce(...)</text></g>
<g id="c9AE" transform="translate(3104,4832)"><rect x="-73.5" y="-24" width="147" height="48"/><text y="6">('getitem-#25', 9)</text></g>
<g id="c9AF" transform="translate(3078,4955)"><circle r="50.5"/><text y="6">getitem</text></g>
<g id="c9AG" transform="translate(2978,5077)"><rect x="-69" y="-24" width="138" height="48"/><text y="6">('assign-#10', 9)</text></g>
<g id="c9AH" transform="translate(2978,5242)"><circle r="93"/><text y="6">partial_by_order</text></g>
<g id="c9AI" transform="translate(3025,5406)"><rect x="-72" y="-24" width="144" height="48"/><text y="6">('sample-#12', 9)</text></g>
<g id="c9AJ" transform="translate(3025,5527)"><circle r="48"/><text y="6">sample</text></g>
<g id="c9AK" transform="translate(3025,5647)"><rect x="-73.5" y="-24" width="147" height="48"/><text y="6">('getitem-#24', 9)</text></g>
<g id="c9AL" transform="translate(3010,5770)"><circle r="50.5"/><text y="6">getitem</text></g>
<g id="c9AM" transform="translate(2971,5892)"><rect x="-95.5" y="-24" width="191" height="48"/><text y="6">('from-delayed-#11', 9)</text></g>
<g id="c9AN" transform="translate(2971,6035)"><circle r="71"/><text y="6">check_meta</text></g>
<g id="c9AO" transform="translate(2971,6178)"><rect x="-91" y="-24" width="182" height="48"/><text y="6">pandas_read_text-#23</text></g>
<g id="c9AP" transform="translate(2971,6363)"><circle r="114"/><text y="6">pandas_read_text(...)</text></g>
<g id="c9AQ" transform="translate(2971,6549)"><rect x="-110" y="-24" width="220" height="48"/><text y="6">read-block-576000000-#13</text></g>
<g id="c9AR" transform="translate(2971,6737)"><circle r="117"/><text y="6">read_block_from_file</text></g>
</g>
</g>
</svg>
